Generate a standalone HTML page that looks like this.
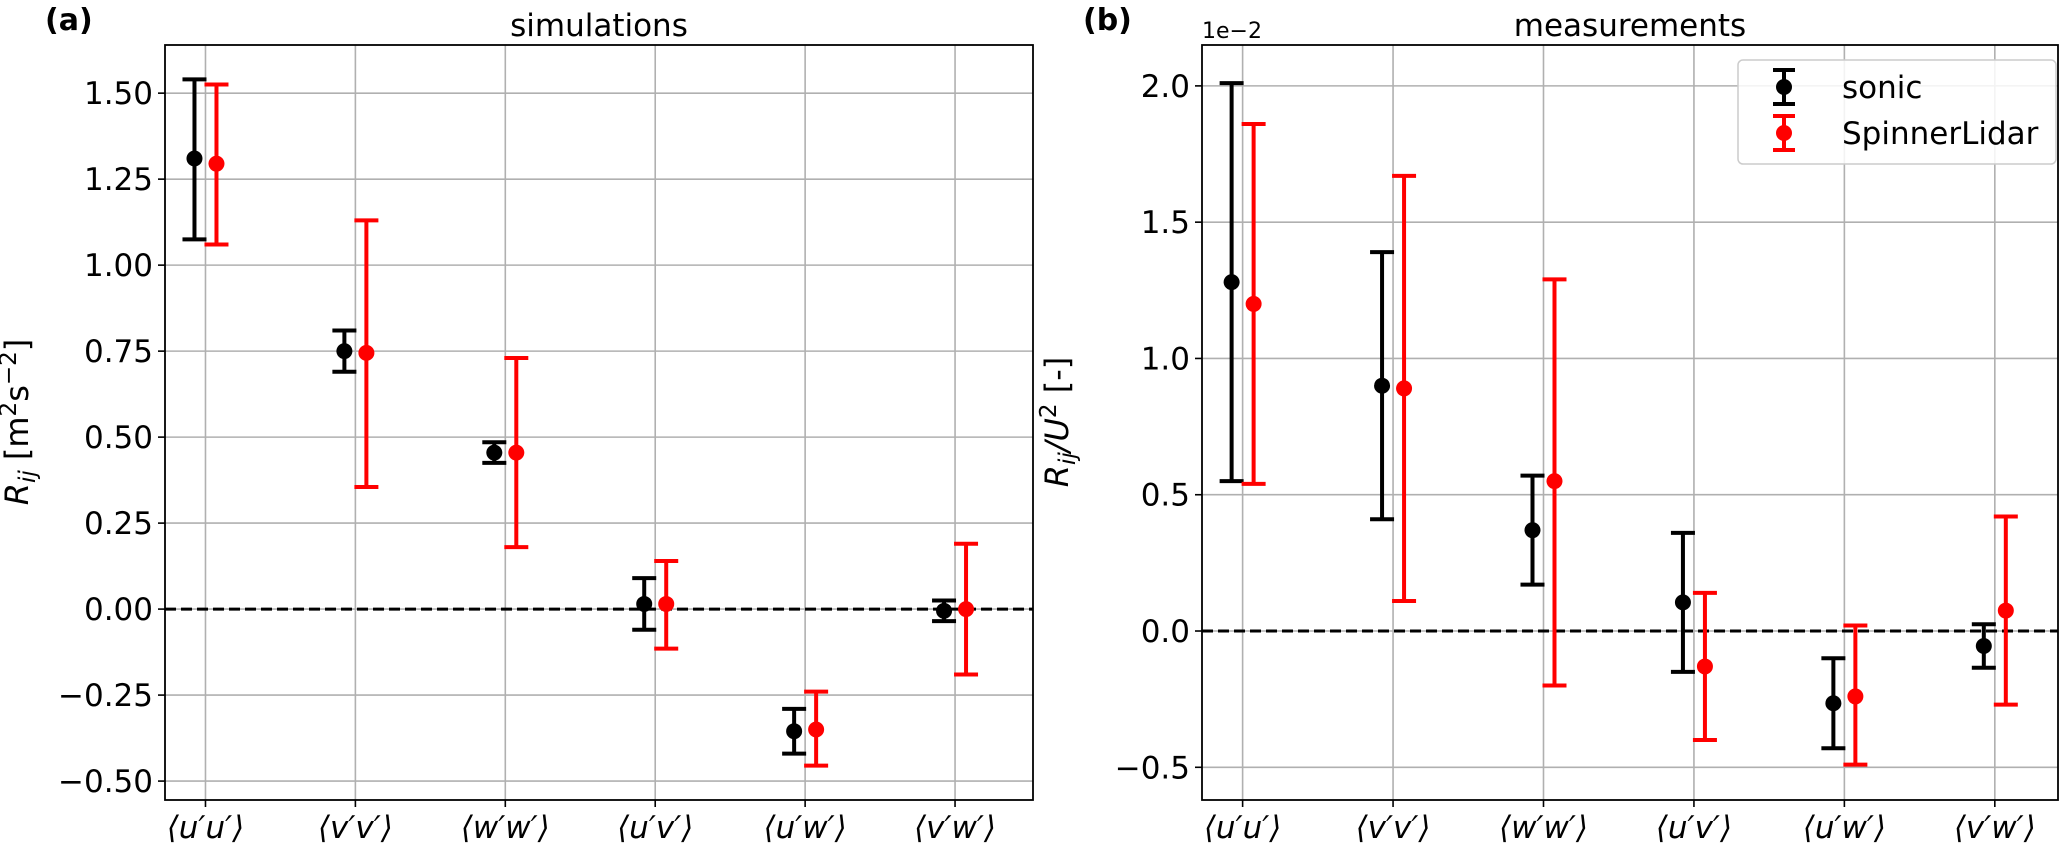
<!DOCTYPE html>
<html><head><meta charset="utf-8"><style>
body{margin:0;background:#fff;}
svg{display:block;font-family:"DejaVu Sans","Liberation Sans",sans-serif;}
</style></head><body>
<svg id="c" width="2067" height="845" viewBox="0 0 2067 845" xmlns="http://www.w3.org/2000/svg"></svg>
<script>
const categories=["⟨u′u′⟩","⟨v′v′⟩","⟨w′w′⟩","⟨u′v′⟩","⟨u′w′⟩","⟨v′w′⟩"];
const simSonic=[1.31,0.75,0.455,0.015,-0.355,-0.005];
const simSonicLo=[1.075,0.69,0.425,-0.06,-0.42,-0.035];
const simSonicHi=[1.54,0.81,0.485,0.09,-0.29,0.025];
const simLidar=[1.295,0.745,0.455,0.015,-0.35,0];
const simLidarLo=[1.06,0.355,0.18,-0.115,-0.455,-0.19];
const simLidarHi=[1.525,1.13,0.73,0.14,-0.24,0.19];
const simTicks=[-0.5,-0.25,0,0.25,0.5,0.75,1.0,1.25,1.5];
const meaSonic=[1.28,0.9,0.37,0.105,-0.265,-0.055];
const meaSonicLo=[0.55,0.41,0.17,-0.15,-0.43,-0.135];
const meaSonicHi=[2.01,1.39,0.57,0.36,-0.1,0.025];
const meaLidar=[1.2,0.89,0.55,-0.13,-0.24,0.075];
const meaLidarLo=[0.54,0.11,-0.2,-0.4,-0.49,-0.27];
const meaLidarHi=[1.86,1.67,1.29,0.14,0.02,0.42];
const meaTicks=[-0.5,0,0.5,1.0,1.5,2.0];

const svg=document.getElementById('c');
const NS='http://www.w3.org/2000/svg';
function mk(tag,attrs,parent){const e=document.createElementNS(NS,tag);for(const k in attrs)e.setAttribute(k,attrs[k]);(parent||svg).appendChild(e);return e;}

function panel(o){
  const g=mk('g',{});
  
  
  const L=o.left,R=o.right,T=45,B=800;
  const xs=i=>L+(i-o.xmin)/(o.xmax-o.xmin)*(R-L);
  const ys=v=>B-(v-o.ymin)/(o.ymax-o.ymin)*(B-T);
  o.ticks.forEach(t=>{
    const y=ys(t);
    const gl=mk('line',{x1:L,x2:R,y1:y,y2:y,stroke:'#b0b0b0','stroke-width':1.6},g);
    
    
    mk('line',{x1:L-7,x2:L,y1:y,y2:y,stroke:'#000','stroke-width':1.6},g);
    const tx=mk('text',{x:L-12,y:y+11,'text-anchor':'end','font-size':31},g);
    tx.textContent=o.fmt(t).replace('-','−');
    
    
  });
  categories.forEach((c,i)=>{
    const x=xs(i);
    const gl=mk('line',{x1:x,x2:x,y1:T,y2:B,stroke:'#b0b0b0','stroke-width':1.6},g);
    
    
    mk('line',{x1:x,x2:x,y1:B,y2:B+7,stroke:'#000','stroke-width':1.6},g);
    const tx=mk('text',{x:x,y:B+38,'text-anchor':'middle','font-size':31,'font-style':'italic'},g);
    tx.textContent=c;
    
    
  });
  const zl=mk('line',{x1:L,x2:R,y1:ys(0),y2:ys(0),stroke:'#000','stroke-width':3,'stroke-dasharray':'11,5'},g);
  
  
  function series(v,lo,hi,off,col,nm){
    v.forEach((val,i)=>{
      const x=xs(i)+off;
      const sg=mk('g',{},g);
      
      
      mk('line',{x1:x,x2:x,y1:ys(lo[i]),y2:ys(hi[i]),stroke:col,'stroke-width':4},sg);
      mk('line',{x1:x-12,x2:x+12,y1:ys(lo[i]),y2:ys(lo[i]),stroke:col,'stroke-width':4},sg);
      mk('line',{x1:x-12,x2:x+12,y1:ys(hi[i]),y2:ys(hi[i]),stroke:col,'stroke-width':4},sg);
      mk('circle',{cx:x,cy:ys(val),r:8,fill:col},sg);
    });
  }
  series(o.s,o.slo,o.shi,-11,'#000','sonic');
  series(o.l,o.llo,o.lhi,11,'#ff0000','spinnerlidar');
  const fr=mk('rect',{x:L,y:T,width:R-L,height:B-T,fill:'none',stroke:'#000','stroke-width':1.8},g);
  
  
  const ti=mk('text',{x:(L+R)/2,y:36,'text-anchor':'middle','font-size':31},g);
  ti.textContent=o.title;
  
  
  const pl=mk('text',{x:o.labx,y:30,'font-size':30,'font-weight':'bold'},g);
  pl.textContent=o.lab;
  
  
  return {xs,ys,g};
}
panel({name:'simulations-panel',left:165,right:1033,xmin:-0.27,xmax:5.52,ymin:-0.555,ymax:1.64,ticks:simTicks,fmt:t=>t.toFixed(2),
 s:simSonic,slo:simSonicLo,shi:simSonicHi,l:simLidar,llo:simLidarLo,lhi:simLidarHi,title:'simulations',lab:'(a)',labx:45});
panel({name:'measurements-panel',left:1202,right:2058,xmin:-0.27,xmax:5.42,ymin:-0.62,ymax:2.15,ticks:meaTicks,fmt:t=>t.toFixed(1),
 s:meaSonic,slo:meaSonicLo,shi:meaSonicHi,l:meaLidar,llo:meaLidarLo,lhi:meaLidarHi,title:'measurements',lab:'(b)',labx:1083});
let yl=mk('text',{transform:'translate(28,422) rotate(-90)','text-anchor':'middle','font-size':32});
yl.innerHTML='<tspan font-style="italic">R</tspan><tspan font-style="italic" font-size="23" dy="7">ij</tspan><tspan dy="-7"> [m</tspan><tspan font-size="23" dy="-12">2</tspan><tspan dy="12">s</tspan><tspan font-size="23" dy="-12">−2</tspan><tspan dy="12">]</tspan>';


let yl2=mk('text',{transform:'translate(1068,422) rotate(-90)','text-anchor':'middle','font-size':32});
yl2.innerHTML='<tspan font-style="italic">R</tspan><tspan font-style="italic" font-size="23" dy="7">ij</tspan><tspan dy="-7" font-style="italic">/U</tspan><tspan font-size="23" dy="-12">2</tspan><tspan dy="12"> [-]</tspan>';


let off=mk('text',{x:1202,y:38,'font-size':22});
off.textContent='1e−2';


const lg=mk('g',{});


mk('rect',{x:1738,y:60,width:318,height:104,rx:5,fill:'#fff','fill-opacity':0.85,stroke:'#ccc','stroke-width':1.5},lg);
[['sonic','#000',87],['SpinnerLidar','#ff0000',133]].forEach(([n,c,y])=>{
  const e=mk('g',{},lg);
  
  
  mk('line',{x1:1784,x2:1784,y1:y-17,y2:y+17,stroke:c,'stroke-width':4},e);
  mk('line',{x1:1773,x2:1795,y1:y-17,y2:y-17,stroke:c,'stroke-width':4},e);
  mk('line',{x1:1773,x2:1795,y1:y+17,y2:y+17,stroke:c,'stroke-width':4},e);
  mk('circle',{cx:1784,cy:y,r:8,fill:c},e);
  const t=mk('text',{x:1842,y:y+11,'font-size':31},e);t.textContent=n;
});
</script>
</body></html>
